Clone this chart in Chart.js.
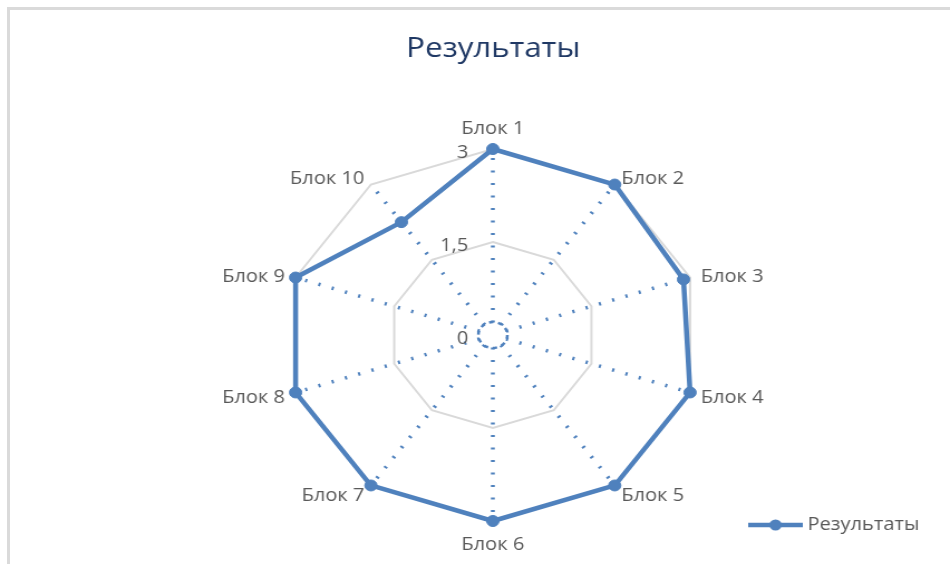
<!DOCTYPE html>
<html lang="ru">
<head>
<meta charset="utf-8">
<title>Результаты</title>
<script src="https://cdn.jsdelivr.net/npm/chart.js@4.4.1/dist/chart.umd.min.js"></script>
<style>
  html, body { margin: 0; padding: 0; background: #fff; overflow: hidden; width: 950px; height: 564px; }
  .frame { position: absolute; left: 7px; top: 7px; width: 1200px; height: 1200px;
           border-left: 3px solid #dadada; border-top: 3px solid #dadada; }
  .wrap { position: absolute; left: 0; top: 0; width: 852px; height: 564px;
          transform: scaleX(1.115); transform-origin: 0 0; }
</style>
</head>
<body>
<div class="frame"></div>
<div class="wrap"><canvas id="chartRadar" width="852" height="564"></canvas></div>
<script>
// ==== ДАННЫЕ ====
const categories = ["Блок 1", "Блок 2", "Блок 3", "Блок 4", "Блок 5",
                    "Блок 6", "Блок 7", "Блок 8", "Блок 9", "Блок 10"];
const results = [3, 3, 2.9, 3, 3, 3, 3, 3, 3, 2.25];
const tickValues = [0, 1.5, 3];

const blue = "#4f81bd";
const grey = "#595959";
Chart.defaults.font.family = "'Open Sans', sans-serif";

// значок легенды: линия с маркером
const legendIcon = document.createElement("canvas");
legendIcon.width = 49;
legendIcon.height = 14;
(function () {
  const c = legendIcon.getContext("2d");
  c.strokeStyle = blue;
  c.fillStyle = blue;
  c.lineWidth = 4.5;
  c.beginPath(); c.moveTo(0, 7); c.lineTo(49, 7); c.stroke();
  c.beginPath(); c.arc(24.5, 7, 5.5, 0, Math.PI * 2); c.fill();
})();

// подписи осей и центр как в Excel
const radarText = {
  id: "radarText",
  afterLayout(chart) {
    // легенда в Excel чуть выше нижнего края области диаграммы
    chart.legend.top -= 5;
    chart.legend.bottom -= 5;
  },
  beforeDatasetsDraw(chart) {
    const s = chart.scales.r;
    const ctx = chart.ctx;
    const xc = s.xCenter, yc = s.yCenter, R = s.drawingArea;
    ctx.save();
    ctx.fillStyle = "#fff";
    ctx.beginPath(); ctx.arc(xc, yc, 12, 0, Math.PI * 2); ctx.fill();
    ctx.strokeStyle = blue;
    ctx.lineWidth = 2.5;
    ctx.setLineDash([4, 4.2]);
    ctx.beginPath(); ctx.arc(xc, yc, 13, 0, Math.PI * 2); ctx.stroke();
    ctx.setLineDash([]);

    ctx.font = "18px 'Open Sans'";
    ctx.fillStyle = grey;
    ctx.textAlign = "right";
    ctx.textBaseline = "middle";
    s.ticks.forEach(t => {
      ctx.fillText(t.label, xc - 22, yc - s.getDistanceFromCenterForValue(t.value) + 3.5);
    });

    chart.data.labels.forEach((lab, i) => {
      const a = s.getIndexAngle(i);
      const sin = Math.sin(a);
      const vertical = Math.abs(sin) < 0.01;
      const p = s.getPointPosition(i, R + (vertical ? 22 : 10));
      ctx.textAlign = vertical ? "center" : (sin > 0 ? "left" : "right");
      ctx.fillText(lab, p.x, p.y + 2);
    });
    ctx.restore();
  }
};

const ctx = document.getElementById("chartRadar").getContext("2d");
new Chart(ctx, {
  type: "radar",
  data: {
    labels: categories,
    datasets: [{
      label: "Результаты",
      data: results,
      borderColor: blue,
      backgroundColor: blue,
      fill: false,
      borderWidth: 4.5,
      borderJoinStyle: "round",
      pointRadius: 5.5,
      pointBackgroundColor: blue,
      pointBorderColor: blue,
      pointBorderWidth: 1
    }]
  },
  options: {
    responsive: false,
    animation: false,
    locale: "ru-RU",
    events: [],
    layout: { padding: { top: 10, left: 60.3, right: 27.5, bottom: 15 } },
    scales: {
      r: {
        min: tickValues[0],
        max: tickValues[tickValues.length - 1],
        ticks: { stepSize: tickValues[1] - tickValues[0], display: false },
        pointLabels: { display: false },
        grid: { color: "#d9d9d9", lineWidth: 2 },
        angleLines: { color: blue, lineWidth: 3.5, borderDash: [2, 10.5] }
      }
    },
    plugins: {
      title: {
        display: true,
        text: "Результаты",
        color: "#1f3864",
        font: { size: 28, weight: "normal", lineHeight: 1.2 },
        padding: { top: 22.2, bottom: 83.2 }
      },
      legend: {
        position: "bottom",
        align: "end",
        labels: {
          usePointStyle: true,
          pointStyle: legendIcon,
          pointStyleWidth: 39.3,
          padding: 0,
          color: grey,
          font: { size: 18 }
        }
      },
      tooltip: { enabled: false }
    }
  },
  plugins: [radarText]
});
</script>
</body>
</html>
